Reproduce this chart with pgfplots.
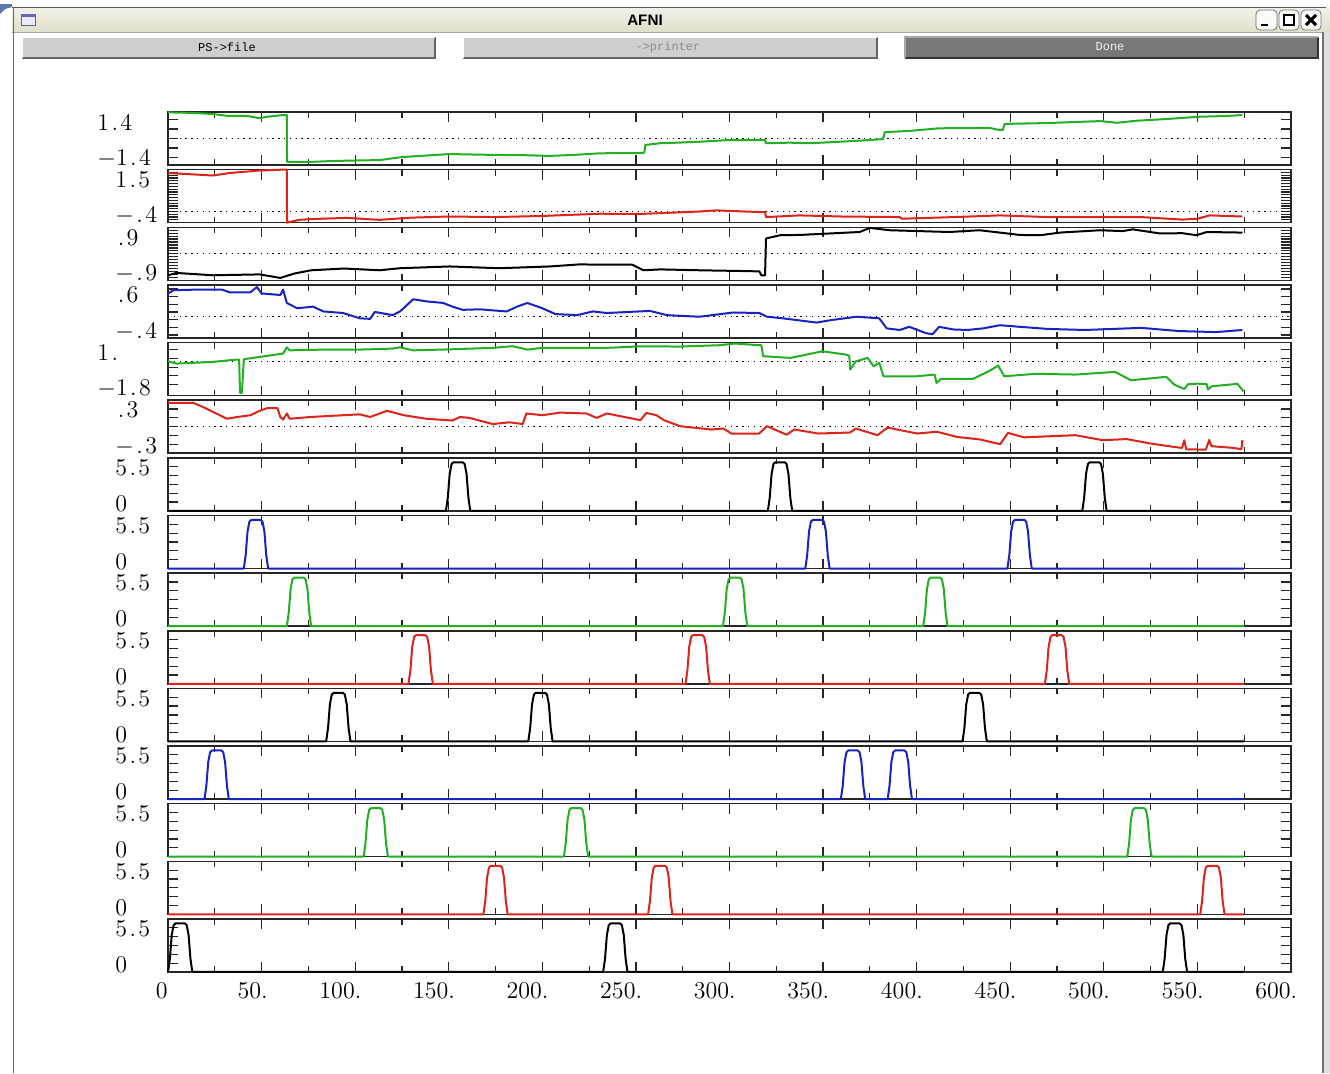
\documentclass[border=0pt]{standalone}
\usepackage{fontspec}
\usepackage{pgfplots}
\pgfplotsset{compat=1.18}
\newfontfamily\sansb{Liberation Sans}
\newfontfamily\monof{Liberation Mono}
\definecolor{cgreen}{RGB}{34,176,34}
\definecolor{cred}{RGB}{222,36,24}
\definecolor{cblue}{RGB}{22,36,196}
\definecolor{tbtop}{RGB}{243,241,232}
\definecolor{tbbot}{RGB}{226,222,206}
\definecolor{corner}{RGB}{90,120,175}
\newcommand\dt{\kern1.2pt.\kern1.2pt}
\pgfplotsset{
 panel/.style={scale only axis, width=561.5pt, height=26.5pt, anchor=north west,
   xmin=0, xmax=600, xtick={0,50,...,600}, minor x tick num=1,
   xticklabels={}, yticklabels={}, tick align=inside,
   major tick length=5pt, minor tick length=3pt,
   axis line style={line width=0.75pt, black!85},
   every tick/.append style={black!85, line width=0.6pt},
   clip=false},
 spike/.style={panel, ymin=0, ymax=6, ytick={1,2,3,4,5}},
 trace/.style={line width=1pt, line join=round},
 zero/.style={black, line width=0.5pt, dash pattern=on 0.7pt off 2.2pt},
}
\begin{document}
\begin{tikzpicture}
\path[use as bounding box] (0,0) rectangle (665pt,-536.5pt);
\fill[white] (0,0) rectangle (665pt,-536.5pt);
\begin{scope}[x=0.5pt,y=-0.5pt]
 % window chrome
 \fill[corner] (0,4) -- (12,4) -- (12,7) -- (5,9) -- (0,14) -- cycle;
 \shade[top color=tbtop, bottom color=tbbot] (12,7) rectangle (1330,32);
 \draw[black!65, line width=0.5pt] (12,7.5) -- (1326,7.5);
 \draw[black!35, line width=0.5pt] (12,32) -- (1330,32);
 \draw[black!60, line width=0.5pt] (13,7) -- (13,1073);
 \draw[black!55, line width=0.6pt] (1323,32) -- (1323,1073);
 \fill[black!12] (1324,32) rectangle (1330,1073);
 % icon
 \draw[black!60, fill=white!92!blue, line width=0.4pt] (21,14) rectangle (35,25);
 \fill[black!45!blue!60] (21.4,14.4) rectangle (34.6,17);
 \node[font=\sansb\bfseries\fontsize{7.6}{9}\selectfont, inner sep=0pt] at (645,20) {AFNI};
 % title buttons
 \foreach \a/\b in {1256/1277,1279/1299,1301/1321}{
   \draw[black!55, rounded corners=2pt, fill=white!85!tbbot, line width=0.4pt] (\a,10) rectangle (\b,30);}
 \draw[line width=1.3pt] (1261,25) -- (1268,25);
 \draw[line width=0.9pt] (1284,15) rectangle (1294,25);
 \draw[line width=0.6pt] (1284,15.5) -- (1294,15.5);
 \draw[line width=1.5pt] (1306,15) -- (1316,25) (1306,25) -- (1316,15);
 % buttons
 \fill[black!19] (22,37) rectangle (435,58);
 \draw[black!60, line width=0.8pt] (22,58) -- (435,58) -- (435,37);
 \draw[white, line width=0.6pt] (22,58) -- (22,37) -- (435,37);
 \node[font=\monof\fontsize{6}{7}\selectfont, inner sep=0pt] at (227,47) {PS->file};
 \fill[black!19] (463,37) rectangle (877,58);
 \draw[black!60, line width=0.8pt] (463,58) -- (877,58) -- (877,37);
 \draw[white, line width=0.6pt] (463,58) -- (463,37) -- (877,37);
 \node[font=\monof\fontsize{6}{7}\selectfont, inner sep=0pt, text=black!45] at (668,47) {->printer};
 \fill[black!53] (905,37) rectangle (1318,58);
 \draw[black!80, line width=0.8pt] (905,58) -- (1318,58) -- (1318,37);
 \draw[black!35, line width=0.6pt] (905,58) -- (905,37) -- (1318,37);
 \node[font=\monof\fontsize{6}{7}\selectfont, inner sep=0pt, text=black!5] at (1110,47) {Done};
\end{scope}

% ---- panel 1
\begin{axis}[panel, at={(84pt,-56pt)}, ymin=-1.4, ymax=1.4, ytick={-1,-0.5,0,0.5,1}]
\addplot[zero] coordinates {(0,0) (600,0)};
\addplot[trace, cgreen] coordinates {(0,1.38) (10,1.36) (18,1.33) (24,1.29) (31.5,1.2) (42,1.2) (49,1.07) (53,1.15) (61.5,1.24) (63.5,1.24) (63.6,-1.23) (77.5,-1.23) (85,-1.2) (95.5,-1.17) (113,-1.14) (125,-0.98) (138,-0.9) (150.5,-0.82) (165,-0.85) (177,-0.87) (190,-0.88) (204,-0.92) (218,-0.86) (231,-0.78) (252,-0.77) (254.5,-0.75) (255,-0.34) (263,-0.25) (272,-0.22) (284,-0.17) (300,-0.08) (319,-0.08) (319.5,-0.25) (332,-0.22) (343,-0.25) (359,-0.17) (375,-0.08) (382,-0.03) (383,0.34) (396,0.4) (412,0.54) (439,0.56) (444,0.45) (446,0.45) (447,0.77) (471,0.82) (498,0.92) (507,0.83) (517.5,0.94) (533.5,1.03) (551,1.15) (565.5,1.19) (574,1.24)};
\end{axis}
% ---- panel 2
\begin{axis}[panel, at={(84pt,-84.82pt)}, ymin=-0.4, ymax=1.5, ytick={-0.4,-0.3,-0.2,-0.1,0,0.1,0.2,0.3,0.4,0.5,0.6,0.7,0.8,0.9,1.0,1.1,1.2,1.3,1.4,1.5}]
\addplot[zero] coordinates {(0,0) (600,0)};
\addplot[trace, cred] coordinates {(0,1.38) (24,1.29) (33,1.38) (49,1.47) (61.5,1.5) (63.5,1.5) (63.6,-0.4) (70,-0.3) (77.5,-0.27) (95.5,-0.23) (113,-0.3) (130,-0.22) (150,-0.18) (175,-0.2) (200,-0.16) (231,-0.08) (252,-0.09) (284,0.0) (293,0.04) (316,-0.02) (319,-0.02) (319.5,-0.2) (337.5,-0.14) (360,-0.18) (391,-0.2) (392,-0.26) (420,-0.2) (444.5,-0.14) (470,-0.2) (498,-0.2) (520,-0.2) (542,-0.29) (550,-0.26) (556.5,-0.14) (574,-0.18)};
\end{axis}
% ---- panel 3
\begin{axis}[panel, at={(84pt,-113.64pt)}, ymin=-0.9, ymax=0.9, ytick={-0.8,-0.7,-0.6,-0.5,-0.4,-0.3,-0.2,-0.1,0,0.1,0.2,0.3,0.4,0.5,0.6,0.7,0.8}]
\addplot[zero] coordinates {(0,0) (600,0)};
\addplot[trace, black] coordinates {(0,-0.73) (4.5,-0.65) (24,-0.73) (49,-0.7) (60,-0.82) (67.5,-0.67) (76.5,-0.56) (94,-0.5) (113,-0.56) (124,-0.49) (150.5,-0.43) (177,-0.49) (204,-0.43) (220,-0.36) (231,-0.37) (248,-0.37) (254,-0.56) (263,-0.53) (284,-0.56) (311,-0.59) (316,-0.6) (317,-0.73) (319,-0.73) (319.5,0.52) (327,0.63) (337.5,0.64) (353.5,0.69) (369.5,0.74) (375,0.88) (385.5,0.8) (417.5,0.74) (433.5,0.8) (444.5,0.72) (455,0.64) (466,0.63) (476.5,0.72) (498,0.8) (510,0.77) (515.5,0.83) (530,0.69) (542,0.7) (549.5,0.63) (555,0.74) (574,0.72)};
\end{axis}
% ---- panel 4
\begin{axis}[panel, at={(84pt,-142.46pt)}, ymin=-0.4, ymax=0.6, ytick={-0.343,-0.2,-0.055,0.09,0.235,0.38,0.525}]
\addplot[zero] coordinates {(0,0) (600,0)};
\addplot[trace, cblue] coordinates {(0,0.44) (3,0.5) (13.5,0.51) (29,0.51) (33,0.46) (44,0.46) (47.5,0.56) (50,0.44) (60,0.41) (61.5,0.51) (63.5,0.26) (69,0.16) (77.5,0.19) (83,0.1) (93.5,0.07) (102.5,-0.03) (108,-0.04) (110.5,0.09) (120,0.03) (124,0.1) (131,0.33) (138,0.29) (147,0.26) (152,0.19) (157.5,0.13) (166.5,0.14) (173.5,0.12) (181,0.1) (186.5,0.19) (192,0.26) (200,0.16) (207,0.05) (218.5,0.03) (227,0.1) (234.5,0.07) (257.5,0.11) (266.5,0.03) (284,0.0) (302,0.08) (316,0.07) (320,0.0) (328.5,-0.03) (337.5,-0.07) (346.5,-0.11) (355,-0.06) (368,0.0) (380,-0.03) (384,-0.22) (391,-0.25) (396,-0.19) (405,-0.31) (408.5,-0.33) (412,-0.19) (419.5,-0.24) (427,-0.25) (435.5,-0.22) (444.5,-0.16) (455,-0.19) (470,-0.23) (490,-0.25) (520,-0.21) (540,-0.27) (560,-0.29) (574,-0.25)};
\end{axis}
% ---- panel 5
\begin{axis}[panel, at={(84pt,-171.28pt)}, ymin=-1.8, ymax=1.0, ytick={-1.22,-0.76,-0.3,0.17,0.63}]
\addplot[zero] coordinates {(0,0) (600,0)};
\addplot[trace, cgreen] coordinates {(0,0.01) (4.5,-0.11) (13.5,-0.07) (24,-0.02) (36.5,0.1) (38,0.1) (38.5,-1.66) (39.5,-1.66) (40,-0.78) (40.5,0.12) (49,0.24) (61.5,0.42) (63.5,0.75) (65,0.59) (84.5,0.63) (102.5,0.63) (120,0.68) (124,0.75) (131,0.59) (147,0.63) (173.5,0.72) (184,0.81) (192,0.63) (200,0.72) (234.5,0.72) (252.4,0.8) (273.5,0.79) (294.6,0.86) (303,0.95) (315.8,0.86) (317,0.86) (318,0.28) (332.6,0.19) (337,0.28) (349.6,0.54) (362,0.37) (364,0.3) (364.5,-0.43) (367.5,0.01) (373.8,0.19) (377,-0.25) (380,-0.07) (382.3,-0.78) (400,-0.78) (409.6,-0.69) (410.6,-1.13) (413,-0.92) (430,-0.92) (438.4,-0.52) (443.6,-0.22) (446.8,-0.78) (463.6,-0.65) (484.8,-0.69) (506,-0.55) (514.5,-0.99) (533.4,-0.81) (537.6,-1.22) (543,-1.45) (545,-1.2) (550,-1.17) (555,-1.2) (555.6,-1.48) (557.7,-1.31) (571.4,-1.18) (574.6,-1.57)};
\end{axis}
% ---- panel 6
\begin{axis}[panel, at={(84pt,-200.1pt)}, ymin=-0.3, ymax=0.3, ytick={-0.2,-0.1,0,0.1,0.2}]
\addplot[zero] coordinates {(0,0) (600,0)};
\addplot[trace, cred] coordinates {(0,0.27) (13.5,0.27) (19,0.22) (31.5,0.09) (37,0.11) (44,0.13) (49,0.18) (53,0.21) (58.5,0.21) (60,0.11) (61.5,0.08) (63.5,0.15) (65,0.09) (76,0.11) (93.5,0.13) (102.5,0.14) (108,0.11) (117,0.18) (126,0.13) (138,0.09) (152,0.07) (156,0.11) (161,0.1) (170,0.05) (173.5,0.03) (182.5,0.05) (189.5,0.03) (191.5,0.15) (200,0.13) (209.5,0.16) (223.5,0.15) (229,0.1) (234.5,0.15) (252.4,0.074) (255.6,0.156) (261,0.13) (265,0.074) (273.5,0.006) (290.4,-0.032) (296.7,-0.02) (301,-0.077) (315.8,-0.077) (320,0.006) (330.5,-0.09) (334.7,-0.032) (347.4,-0.077) (364.3,-0.066) (367.5,-0.02) (379,-0.096) (384.5,-0.01) (400.3,-0.077) (410.8,-0.057) (421.4,-0.115) (434,-0.145) (444.6,-0.198) (448.8,-0.07) (457.3,-0.12) (484.8,-0.096) (499.5,-0.153) (512.2,-0.14) (524.9,-0.19) (537.6,-0.229) (541.8,-0.24) (543,-0.153) (544,-0.255) (554.5,-0.26) (556.3,-0.15) (557.5,-0.22) (569.3,-0.24) (573.5,-0.255) (574,-0.153)};
\end{axis}
% ---- panel 7
\begin{axis}[spike, at={(84pt,-228.92pt)}]
\addplot[trace, black] coordinates {(0,0) (148.5,0) (149.5,1.5) (150.5,4.2) (151.5,5.3) (152.5,5.5) (157.5,5.5) (158.5,5.3) (159.5,4.2) (160.5,1.5) (161.5,0) (320.5,0) (321.5,1.5) (322.5,4.2) (323.5,5.3) (324.5,5.5) (329.5,5.5) (330.5,5.3) (331.5,4.2) (332.5,1.5) (333.5,0) (488.5,0) (489.5,1.5) (490.5,4.2) (491.5,5.3) (492.5,5.5) (497.5,5.5) (498.5,5.3) (499.5,4.2) (500.5,1.5) (501.5,0) (575,0)};
\end{axis}
% ---- panel 8
\begin{axis}[spike, at={(84pt,-257.74pt)}]
\addplot[trace, cblue] coordinates {(0,0) (40.5,0) (41.5,1.5) (42.5,4.2) (43.5,5.3) (44.5,5.5) (49.5,5.5) (50.5,5.3) (51.5,4.2) (52.5,1.5) (53.5,0) (340.5,0) (341.5,1.5) (342.5,4.2) (343.5,5.3) (344.5,5.5) (349.5,5.5) (350.5,5.3) (351.5,4.2) (352.5,1.5) (353.5,0) (448.5,0) (449.5,1.5) (450.5,4.2) (451.5,5.3) (452.5,5.5) (457.5,5.5) (458.5,5.3) (459.5,4.2) (460.5,1.5) (461.5,0) (575,0)};
\end{axis}
% ---- panel 9
\begin{axis}[spike, at={(84pt,-286.56pt)}]
\addplot[trace, cgreen] coordinates {(0,0) (63.5,0) (64.5,1.5) (65.5,4.2) (66.5,5.3) (67.5,5.5) (72.5,5.5) (73.5,5.3) (74.5,4.2) (75.5,1.5) (76.5,0) (296.5,0) (297.5,1.5) (298.5,4.2) (299.5,5.3) (300.5,5.5) (305.5,5.5) (306.5,5.3) (307.5,4.2) (308.5,1.5) (309.5,0) (403.5,0) (404.5,1.5) (405.5,4.2) (406.5,5.3) (407.5,5.5) (412.5,5.5) (413.5,5.3) (414.5,4.2) (415.5,1.5) (416.5,0) (575,0)};
\end{axis}
% ---- panel 10
\begin{axis}[spike, at={(84pt,-315.38pt)}]
\addplot[trace, cred] coordinates {(0,0) (128.5,0) (129.5,1.5) (130.5,4.2) (131.5,5.3) (132.5,5.5) (137.5,5.5) (138.5,5.3) (139.5,4.2) (140.5,1.5) (141.5,0) (276.5,0) (277.5,1.5) (278.5,4.2) (279.5,5.3) (280.5,5.5) (285.5,5.5) (286.5,5.3) (287.5,4.2) (288.5,1.5) (289.5,0) (468.5,0) (469.5,1.5) (470.5,4.2) (471.5,5.3) (472.5,5.5) (477.5,5.5) (478.5,5.3) (479.5,4.2) (480.5,1.5) (481.5,0) (575,0)};
\end{axis}
% ---- panel 11
\begin{axis}[spike, at={(84pt,-344.2pt)}]
\addplot[trace, black] coordinates {(0,0) (84.5,0) (85.5,1.5) (86.5,4.2) (87.5,5.3) (88.5,5.5) (93.5,5.5) (94.5,5.3) (95.5,4.2) (96.5,1.5) (97.5,0) (192.5,0) (193.5,1.5) (194.5,4.2) (195.5,5.3) (196.5,5.5) (201.5,5.5) (202.5,5.3) (203.5,4.2) (204.5,1.5) (205.5,0) (424.5,0) (425.5,1.5) (426.5,4.2) (427.5,5.3) (428.5,5.5) (433.5,5.5) (434.5,5.3) (435.5,4.2) (436.5,1.5) (437.5,0) (575,0)};
\end{axis}
% ---- panel 12
\begin{axis}[spike, at={(84pt,-373.02pt)}]
\addplot[trace, cblue] coordinates {(0,0) (19.5,0) (20.5,1.5) (21.5,4.2) (22.5,5.3) (23.5,5.5) (28.5,5.5) (29.5,5.3) (30.5,4.2) (31.5,1.5) (32.5,0) (359.5,0) (360.5,1.5) (361.5,4.2) (362.5,5.3) (363.5,5.5) (368.5,5.5) (369.5,5.3) (370.5,4.2) (371.5,1.5) (372.5,0) (384.5,0) (385.5,1.5) (386.5,4.2) (387.5,5.3) (388.5,5.5) (393.5,5.5) (394.5,5.3) (395.5,4.2) (396.5,1.5) (397.5,0) (575,0)};
\end{axis}
% ---- panel 13
\begin{axis}[spike, at={(84pt,-401.84pt)}]
\addplot[trace, cgreen] coordinates {(0,0) (104.5,0) (105.5,1.5) (106.5,4.2) (107.5,5.3) (108.5,5.5) (113.5,5.5) (114.5,5.3) (115.5,4.2) (116.5,1.5) (117.5,0) (211.5,0) (212.5,1.5) (213.5,4.2) (214.5,5.3) (215.5,5.5) (220.5,5.5) (221.5,5.3) (222.5,4.2) (223.5,1.5) (224.5,0) (512.5,0) (513.5,1.5) (514.5,4.2) (515.5,5.3) (516.5,5.5) (521.5,5.5) (522.5,5.3) (523.5,4.2) (524.5,1.5) (525.5,0) (575,0)};
\end{axis}
% ---- panel 14
\begin{axis}[spike, at={(84pt,-430.66pt)}]
\addplot[trace, cred] coordinates {(0,0) (168.5,0) (169.5,1.5) (170.5,4.2) (171.5,5.3) (172.5,5.5) (177.5,5.5) (178.5,5.3) (179.5,4.2) (180.5,1.5) (181.5,0) (256.5,0) (257.5,1.5) (258.5,4.2) (259.5,5.3) (260.5,5.5) (265.5,5.5) (266.5,5.3) (267.5,4.2) (268.5,1.5) (269.5,0) (551.5,0) (552.5,1.5) (553.5,4.2) (554.5,5.3) (555.5,5.5) (560.5,5.5) (561.5,5.3) (562.5,4.2) (563.5,1.5) (564.5,0) (575,0)};
\end{axis}
% ---- panel 15 (bottom, with x labels)
\begin{axis}[spike, at={(84pt,-459.48pt)},
  xticklabels={0,50\rlap{.},100\rlap{.},150\rlap{.},200\rlap{.},250\rlap{.},300\rlap{.},350\rlap{.},400\rlap{.},450\rlap{.},500\rlap{.},550\rlap{.},600\rlap{.}},
  xticklabel style={anchor=north east, inner sep=0pt, yshift=-5pt, font=\fontsize{12}{13}\selectfont}]
\addplot[trace, black] coordinates {(0,0) (1,1.5) (2,4.2) (3,5.3) (4,5.5) (9,5.5) (10,5.3) (11,4.2) (12,1.5) (13,0) (232.5,0) (233.5,1.5) (234.5,4.2) (235.5,5.3) (236.5,5.5) (241.5,5.5) (242.5,5.3) (243.5,4.2) (244.5,1.5) (245.5,0) (531.5,0) (532.5,1.5) (533.5,4.2) (534.5,5.3) (535.5,5.5) (540.5,5.5) (541.5,5.3) (542.5,4.2) (543.5,1.5) (544.5,0) (575,0)};
\end{axis}

% y range labels
\begin{scope}[x=0.5pt,y=-0.5pt, every node/.style={anchor=west, inner sep=0pt, font=\fontsize{12}{13}\selectfont}]
 \node at (97,122) {1\dt4};   \node at (97,158) {$-$1\dt4};
 \node at (115,179.6) {1\dt5}; \node at (115,215.6) {$-$\dt4};
 \node at (115,237.3) {\dt9};  \node at (115,273.3) {$-$\dt9};
 \node at (115,294.9) {\dt6};  \node at (115,330.9) {$-$\dt4};
 \node at (97,352.6) {1\dt};   \node at (97,388.6) {$-$1\dt8};
 \node at (115,410.2) {\dt3};  \node at (115,446.2) {$-$\dt3};
 \foreach \t in {467.8,525.5,583.1,640.8,698.4,756,813.7,871.3,929}{
   \node at (115,\t) {5\dt5};}
 \foreach \b in {503.8,561.5,619.1,676.8,734.4,792,849.7,907.3,965}{
   \node at (115,\b) {0};}
\end{scope}
\end{tikzpicture}
\end{document}
